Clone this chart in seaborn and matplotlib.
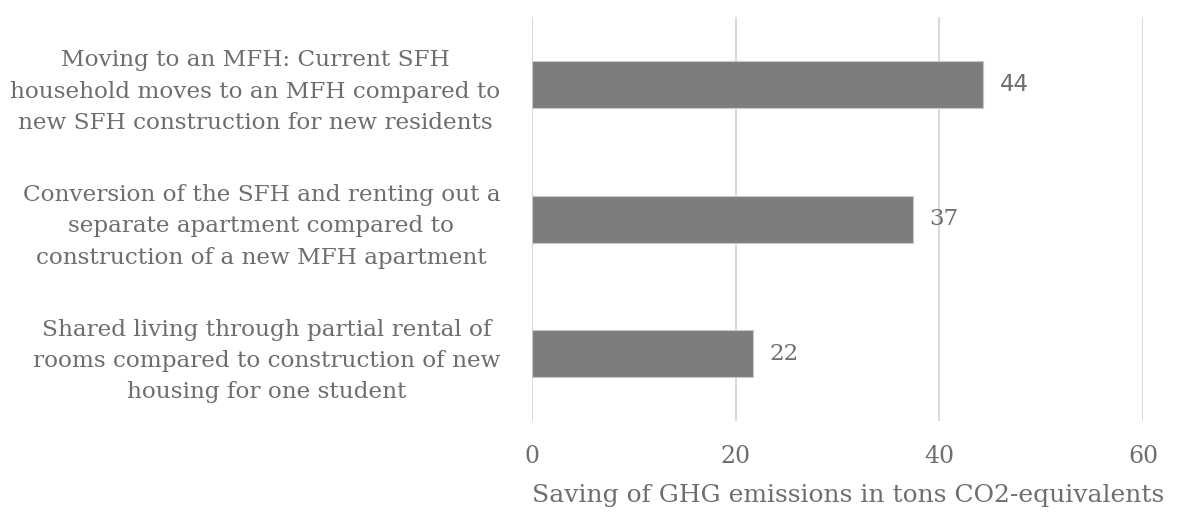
import matplotlib
matplotlib.use('Agg')
import matplotlib.pyplot as plt
import seaborn as sns
import pandas as pd

# values
labels = [
    'Moving to an MFH: Current SFH\nhousehold moves to an MFH compared to\nnew SFH construction for new residents',
    'Conversion of the SFH and renting out a\nseparate apartment compared to\nconstruction of a new MFH apartment',
    'Shared living through partial rental of\nrooms compared to construction of new\nhousing for one student',
]
savings = [44.3, 37.4, 21.7]
shown = ['44', '37', '22']
ticks = [0, 20, 40, 60]

df = pd.DataFrame({'label': labels, 'saving': savings})

sns.set_style('white')
plt.rcParams['font.family'] = ['DejaVu Serif']

text_col = '#6d6e71'
bar_col = '#7c7d7f'

fig = plt.figure(figsize=(12, 5.2), dpi=100)
ax = fig.add_axes([0.4433, 0.19, 0.5092, 0.777])

sns.barplot(data=df, x='saving', y='label', orient='h', color=bar_col,
            width=0.35, edgecolor='#c8c8c8', linewidth=0.8, saturation=1, ax=ax)

ax.set_xlim(0, 60)
ax.set_xticks(ticks)
ax.set_xticklabels([str(t) for t in ticks])
ax.grid(axis='x', color='#d9d9d9', linewidth=1.4)
ax.set_axisbelow(True)
for s in ax.spines.values():
    s.set_visible(False)

ax.tick_params(axis='x', length=0, pad=17, labelsize=17, labelcolor=text_col)
ax.tick_params(axis='y', length=0, pad=23, labelsize=16.7, labelcolor=text_col)
for t in ax.get_yticklabels():
    t.set_multialignment('center')
    t.set_linespacing(1.55)

ax.set_ylabel('')
ax.set_xlabel('Saving of GHG emissions in tons CO2-equivalents', fontsize=18,
              color=text_col, labelpad=4)
ax.xaxis.set_label_coords(0.518, -0.155)

for i, (v, s) in enumerate(zip(savings, shown)):
    fam = ['Liberation Sans Narrow', 'DejaVu Sans'] if i == 0 else ['DejaVu Serif']
    ax.annotate(s, xy=(v, i), xytext=(12, 0), textcoords='offset points',
                va='center', ha='left', fontsize=16.5, color=text_col, family=fam)

fig.savefig('out.png', dpi=100, facecolor='white')
